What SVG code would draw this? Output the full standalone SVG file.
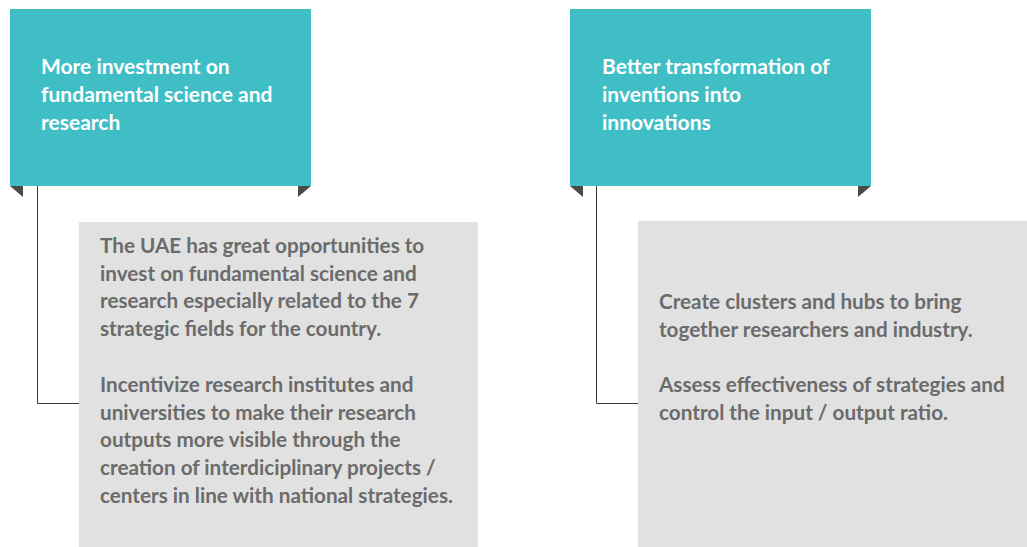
<svg xmlns="http://www.w3.org/2000/svg" width="1027" height="547" viewBox="0 0 1027 547">
<style>
.head{fill:#40bec6}
.card{fill:#e1e1e1}
.tri{fill:#4a4a4a}
.ht{font-family:Lato,"Liberation Sans",sans-serif;font-weight:bold;font-size:21px;fill:#ffffff}
.bt{font-family:Lato,"Liberation Sans",sans-serif;font-weight:bold;font-size:20.7px;fill:#6b6b6b}
.conn{fill:none;stroke:#3a3a3a;stroke-width:1}
</style>
<rect width="1027" height="547" fill="#ffffff"/>
<g id="connectors">
<polyline class="conn" points="37.5,186 37.5,403.5 79,403.5"/>
<polyline class="conn" points="596.5,186 596.5,403.5 638,403.5"/>
</g>
<g id="head1">
<rect class="head" x="10" y="9" width="301" height="177"/>
<polygon class="tri" points="10,186 23,186 23,197"/>
<polygon class="tri" points="298,186 311,186 298,197"/>
<text class="ht"><tspan x="41" y="74">More investment on</tspan><tspan x="41" y="102">fundamental science and</tspan><tspan x="41" y="130">research</tspan></text>
</g>
<g id="head2">
<rect class="head" x="570" y="9" width="301" height="177"/>
<polygon class="tri" points="570,186 583,186 583,197"/>
<polygon class="tri" points="858,186 871,186 858,197"/>
<text class="ht"><tspan x="602" y="74">Better transformation of</tspan><tspan x="602" y="102">inventions into</tspan><tspan x="602" y="130">innovations</tspan></text>
</g>
<g id="card1">
<rect class="card" x="79" y="222" width="399" height="325"/>
<text class="bt"><tspan x="100" y="253">The UAE has great opportunities to</tspan><tspan x="100" y="281">invest on fundamental science and</tspan><tspan x="100" y="308">research especially related to the 7</tspan><tspan x="100" y="336">strategic fields for the country.</tspan><tspan x="100" y="392">Incentivize research institutes and</tspan><tspan x="100" y="420">universities to make their research</tspan><tspan x="100" y="447">outputs more visible through the</tspan><tspan x="100" y="475">creation of interdiciplinary projects /</tspan><tspan x="100" y="503">centers in line with national strategies.</tspan></text>
</g>
<g id="card2">
<rect class="card" x="638" y="221" width="389" height="326"/>
<text class="bt"><tspan x="659" y="309">Create clusters and hubs to bring</tspan><tspan x="659" y="337">together researchers and industry.</tspan><tspan x="659" y="392">Assess effectiveness of strategies and</tspan><tspan x="659" y="420">control the input / output ratio.</tspan></text>
</g>
</svg>
